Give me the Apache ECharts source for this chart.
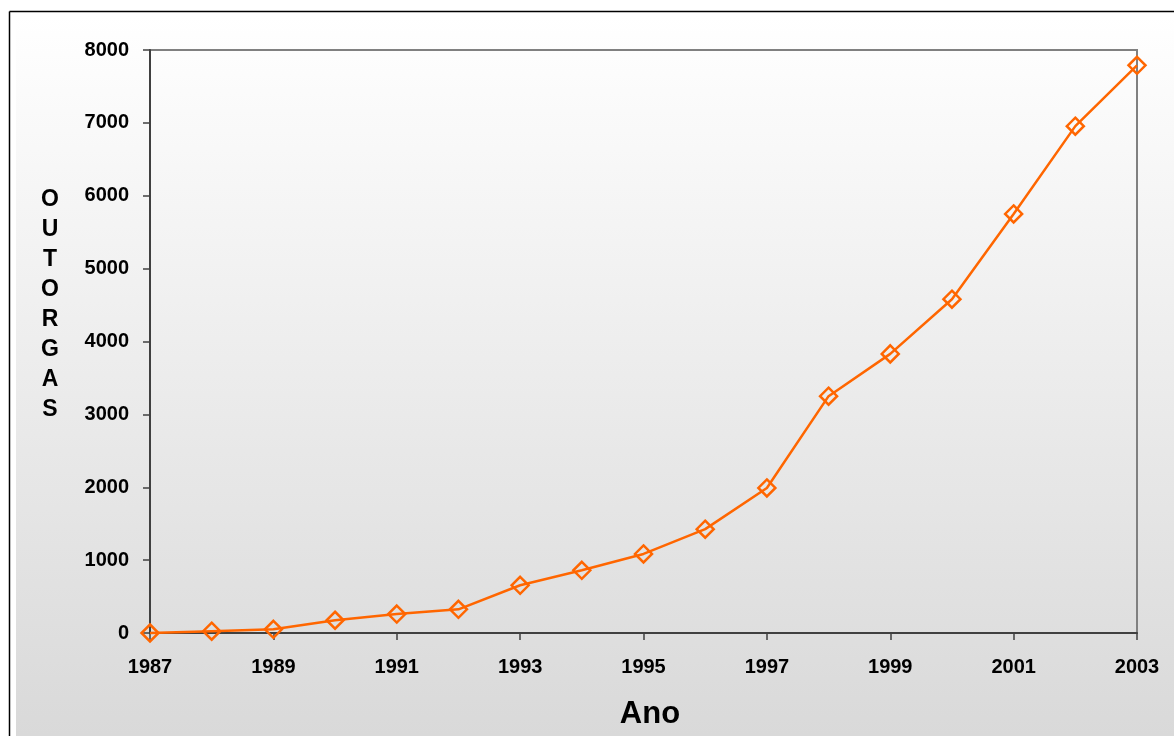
<!DOCTYPE html>
<html>
<head>
<meta charset="utf-8">
<script src="https://cdn.jsdelivr.net/npm/echarts@6/dist/echarts.min.js"></script>
<style>
html,body{margin:0;padding:0;background:#fff;}
#c{width:1174px;height:736px;}
</style>
</head>
<body>
<div id="c"></div>
<script>
var years = ['1987','1988','1989','1990','1991','1992','1993','1994','1995','1996','1997','1998','1999','2000','2001','2002','2003'];
var outorgas = [0, 25, 50, 175, 260, 325, 655, 860, 1085, 1425, 1990, 3250, 3830, 4580, 5750, 6955, 7790];
var yTitleLetters = ['O','U','T','O','R','G','A','S'];
var xTitle = 'Ano';

var chart = echarts.init(document.getElementById('c'), null, {renderer:'canvas'});
var font = '"Liberation Sans", Arial, sans-serif';

var graphics = [
  {type:'rect', z:-10, silent:true, shape:{x:16, y:16, width:1158, height:720},
   style:{fill:new echarts.graphic.LinearGradient(0,0,0,1,[{offset:0,color:'#ffffff'},{offset:1,color:'#d9d9d9'}])}},
  {type:'line', z:-5, silent:true, shape:{x1:9.5, y1:11.5, x2:1174, y2:11.5}, style:{stroke:'#000', lineWidth:1.5}},
  {type:'line', z:-5, silent:true, shape:{x1:9.5, y1:11.5, x2:9.5, y2:736}, style:{stroke:'#000', lineWidth:1.5}},
  {type:'text', silent:true, style:{text:xTitle, x:650, y:714, fill:'#000', font:'bold 31px ' + font, textAlign:'center', textVerticalAlign:'middle'}}
];
yTitleLetters.forEach(function(ch, i){
  graphics.push({type:'text', silent:true, style:{text:ch, x:50, y:200 + i*30, fill:'#000',
    font:'bold 23px ' + font, textAlign:'center', textVerticalAlign:'middle'}});
});

chart.setOption({
  animation:false,
  backgroundColor:'transparent',
  grid:{left:150, right:37, top:50, bottom:103, show:true, borderColor:'#808080', borderWidth:2, backgroundColor:'transparent'},
  xAxis:{
    type:'category', data:years, boundaryGap:false,
    axisLine:{lineStyle:{color:'#404040', width:2}},
    axisTick:{show:true, interval:1, length:7, lineStyle:{color:'#404040', width:1.5}},
    axisLabel:{interval:1, color:'#000', fontFamily:font, fontWeight:'bold', fontSize:20, margin:24},
    splitLine:{show:false}
  },
  yAxis:{
    type:'value', min:0, max:8000, interval:1000,
    axisLine:{show:true, lineStyle:{color:'#404040', width:2}},
    axisTick:{show:true, length:7, lineStyle:{color:'#404040', width:1.5}},
    axisLabel:{color:'#000', fontFamily:font, fontWeight:'bold', fontSize:20, margin:21,
      formatter:function(v){return String(v);}},
    splitLine:{show:false}
  },
  series:[{
    type:'line', data:outorgas,
    symbol:'diamond', symbolSize:17, showAllSymbol:true,
    lineStyle:{color:'#ff6600', width:2.5},
    itemStyle:{color:'rgba(255,255,255,0)', borderColor:'#ff6600', borderWidth:2.5},
    clip:false
  }],
  graphic:graphics
});
</script>
</body>
</html>
